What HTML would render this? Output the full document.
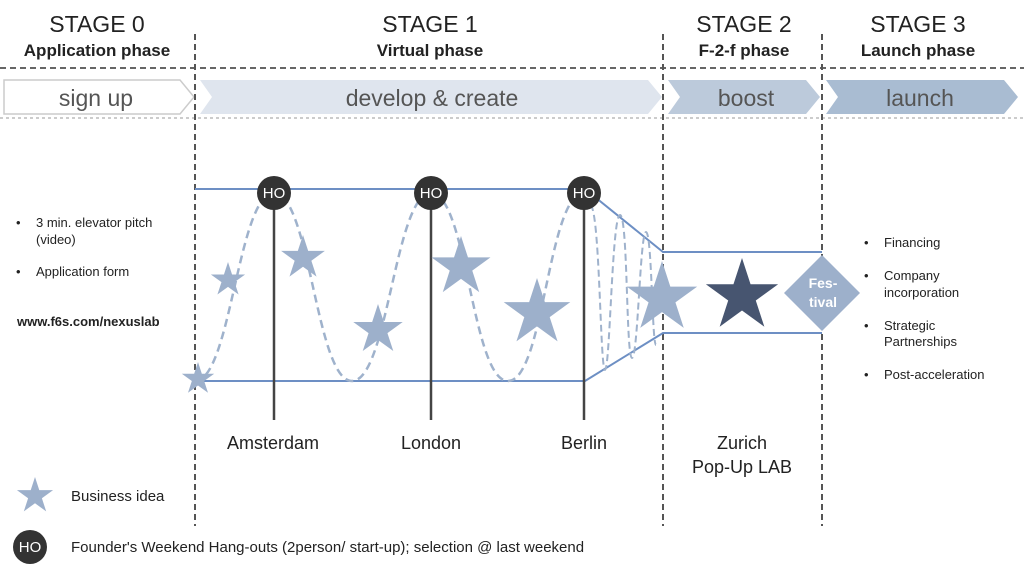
<!DOCTYPE html>
<html><head><meta charset="utf-8"><style>
body{margin:0;background:#fff;}
svg{display:block;font-family:"Liberation Sans",sans-serif;}
</style></head><body>
<svg width="1024" height="568" viewBox="0 0 1024 568">
<defs>
<polygon id="st" points="0,-1 0.225,-0.309 0.951,-0.309 0.363,0.118 0.588,0.809 0,0.382 -0.588,0.809 -0.363,0.118 -0.951,-0.309 -0.225,-0.309"/>
</defs>
<!-- headers -->
<g fill="#222" text-anchor="middle">
<text x="97" y="32" font-size="23">STAGE 0</text>
<text x="97" y="56" font-size="17" font-weight="bold">Application phase</text>
<text x="430" y="32" font-size="23">STAGE 1</text>
<text x="430" y="56" font-size="17" font-weight="bold">Virtual phase</text>
<text x="744" y="32" font-size="23">STAGE 2</text>
<text x="744" y="56" font-size="17" font-weight="bold">F-2-f phase</text>
<text x="918" y="32" font-size="23">STAGE 3</text>
<text x="918" y="56" font-size="17" font-weight="bold">Launch phase</text>
</g>
<line x1="0" y1="68" x2="1024" y2="68" stroke="#666" stroke-width="2" stroke-dasharray="6,4"/>
<line x1="0" y1="118" x2="1024" y2="118" stroke="#bbb" stroke-width="1.5" stroke-dasharray="3,3"/>
<!-- arrows -->
<polygon points="4,80 180,80 194,97 180,114 4,114" fill="#fff" stroke="#ccc" stroke-width="1.5"/>
<polygon points="200,80 648,80 662,97 648,114 200,114 212,97" fill="#dfe5ee"/>
<polygon points="668,80 806,80 820,97 806,114 668,114 680,97" fill="#bccadb"/>
<polygon points="826,80 1004,80 1018,97 1004,114 826,114 838,97" fill="#a9bcd2"/>
<g fill="#555" text-anchor="middle" font-size="23">
<text x="96" y="106">sign up</text>
<text x="432" y="106">develop &amp; create</text>
<text x="746" y="106">boost</text>
<text x="920" y="106">launch</text>
</g>
<!-- stage dividers -->
<g stroke="#555" stroke-width="2" stroke-dasharray="6,4">
<line x1="195" y1="34" x2="195" y2="526"/>
<line x1="663" y1="34" x2="663" y2="526"/>
<line x1="822" y1="34" x2="822" y2="526"/>
</g>
<!-- blue frame lines -->
<g stroke="#6d8fc4" stroke-width="2" fill="none">
<polyline points="195,189 585,189 663,252 822,252"/>
<polyline points="195,381 585,381 663,333 822,333"/>
</g>
<!-- wave -->
<path d="M195,381 C231,381 238,193 274,193 C310,193 316,381 352,381 C388,381 395,193 431,193 C467,193 472,381 508,381 C544,381 548,193 584,193" fill="none" stroke="#9fb2cc" stroke-width="2.5" stroke-dasharray="8,5"/>
<path d="M590,205 C600,205 600,370 605,370 C610,370 612,215 620,215 C628,215 626,358 632,358 C638,358 640,232 646,232 C652,232 652,345 656,345" fill="none" stroke="#9fb2cc" stroke-width="2" stroke-dasharray="7,4"/>
<!-- verticals -->
<g stroke="#444" stroke-width="2.5">
<line x1="274" y1="193" x2="274" y2="420"/>
<line x1="431" y1="193" x2="431" y2="420"/>
<line x1="584" y1="193" x2="584" y2="420"/>
</g>
<!-- stars -->
<g fill="#9db0cb">
<use href="#st" transform="translate(198,379) scale(17)"/>
<use href="#st" transform="translate(228,280) scale(18)"/>
<use href="#st" transform="translate(303,258) scale(23)"/>
<use href="#st" transform="translate(378,330) scale(26)"/>
<use href="#st" transform="translate(461,267) scale(31)"/>
<use href="#st" transform="translate(537,313) scale(35)"/>
<use href="#st" transform="translate(662,298) scale(37)"/>
<use href="#st" transform="translate(35,496) scale(19)"/>
</g>
<use href="#st" transform="translate(742,296) scale(38)" fill="#475570"/>
<polygon points="822,255 860,293 822,331 784,293" fill="#9db0cb"/>
<g fill="#fff" font-weight="bold" font-size="14" text-anchor="middle">
<text x="823" y="288">Fes-</text><text x="823" y="307">tival</text>
</g>
<!-- HO circles -->
<g fill="#333"><circle cx="274" cy="193" r="17"/><circle cx="431" cy="193" r="17"/><circle cx="584" cy="193" r="17"/><circle cx="30" cy="547" r="17"/></g>
<g fill="#fff" font-size="15" text-anchor="middle">
<text x="274" y="198">HO</text><text x="431" y="198">HO</text><text x="584" y="198">HO</text><text x="30" y="552">HO</text>
</g>
<!-- city labels -->
<g fill="#222" font-size="18" text-anchor="middle">
<text x="273" y="449">Amsterdam</text>
<text x="431" y="449">London</text>
<text x="584" y="449">Berlin</text>
<text x="742" y="449">Zurich</text>
<text x="742" y="473">Pop-Up LAB</text>
</g>
<!-- left text -->
<g fill="#222" font-size="13">
<text x="16" y="227">•</text><text x="36" y="227">3 min. elevator pitch</text>
<text x="36" y="244">(video)</text>
<text x="16" y="276">•</text><text x="36" y="276">Application form</text>
<text x="17" y="326" font-weight="bold">www.f6s.com/nexuslab</text>
</g>
<!-- right text -->
<g fill="#222" font-size="13">
<text x="864" y="247">•</text><text x="884" y="247">Financing</text>
<text x="864" y="280">•</text><text x="884" y="280">Company</text><text x="884" y="297">incorporation</text>
<text x="864" y="330">•</text><text x="884" y="330">Strategic</text><text x="884" y="346">Partnerships</text>
<text x="864" y="379">•</text><text x="884" y="379">Post-acceleration</text>
</g>
<!-- legend -->
<g fill="#222" font-size="15">
<text x="71" y="501">Business idea</text>
<text x="71" y="552">Founder's Weekend Hang-outs (2person/ start-up); selection @ last weekend</text>
</g>
</svg>
</body></html>
